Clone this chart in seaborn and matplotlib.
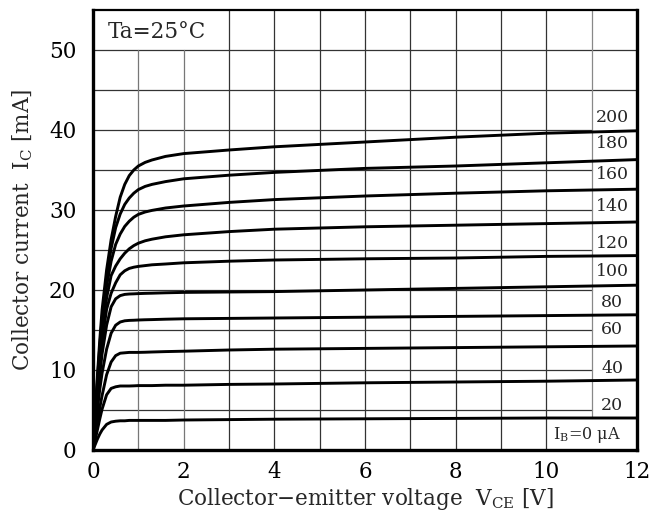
import numpy as np
import pandas as pd
import matplotlib
matplotlib.use("Agg")
import matplotlib.pyplot as plt
import seaborn as sns

# ---- data ----
vce = [0, 0.05, 0.1, 0.15, 0.2, 0.3, 0.4, 0.5, 0.6, 0.7, 0.8, 0.9, 1.0, 1.15, 1.3, 1.6, 2, 3, 4, 6, 8, 10, 12]
ic_200 = [0, 4.8, 9.5, 13.8, 17.5, 22.5, 26.3, 29.2, 31.6, 33.2, 34.3, 35.0, 35.5, 35.95, 36.25, 36.7, 37.05, 37.5, 37.9, 38.5, 39.1, 39.6, 39.9]
ic_180 = [0, 4.5, 9.0, 13.0, 16.5, 21.6, 25.2, 27.8, 29.5, 30.7, 31.5, 32.1, 32.55, 32.95, 33.2, 33.55, 33.9, 34.35, 34.7, 35.2, 35.5, 35.9, 36.3]
ic_160 = [0, 4.3, 8.5, 12.3, 15.6, 20.5, 23.6, 25.7, 27.0, 27.95, 28.6, 29.1, 29.45, 29.75, 29.95, 30.25, 30.5, 30.95, 31.3, 31.75, 32.1, 32.4, 32.6]
ic_140 = [0, 4.0, 8.0, 11.6, 14.6, 19.0, 21.8, 23.0, 23.9, 24.6, 25.15, 25.55, 25.85, 26.15, 26.35, 26.65, 26.9, 27.3, 27.6, 27.9, 28.1, 28.3, 28.5]
ic_120 = [0, 3.8, 7.5, 10.8, 13.6, 17.6, 19.6, 20.9, 21.9, 22.4, 22.7, 22.85, 22.95, 23.05, 23.15, 23.25, 23.4, 23.6, 23.75, 23.9, 24.0, 24.2, 24.3]
ic_100 = [0, 3.3, 6.5, 9.4, 12.0, 15.6, 17.9, 18.9, 19.3, 19.45, 19.5, 19.52, 19.55, 19.58, 19.6, 19.65, 19.7, 19.75, 19.8, 20.0, 20.2, 20.4, 20.6]
ic_80 = [0, 2.6, 5.2, 7.6, 9.6, 12.6, 14.6, 15.6, 16.0, 16.15, 16.2, 16.22, 16.25, 16.28, 16.3, 16.35, 16.4, 16.45, 16.5, 16.6, 16.7, 16.8, 16.9]
ic_60 = [0, 1.8, 3.6, 5.3, 6.8, 9.4, 11.0, 11.8, 12.1, 12.15, 12.2, 12.2, 12.2, 12.22, 12.25, 12.3, 12.35, 12.5, 12.6, 12.7, 12.8, 12.9, 13.0]
ic_40 = [0, 1.3, 2.6, 3.9, 5.1, 6.9, 7.7, 7.9, 8.0, 8.0, 8.0, 8.02, 8.05, 8.05, 8.05, 8.1, 8.1, 8.2, 8.25, 8.4, 8.5, 8.6, 8.75]
ic_20 = [0, 0.7, 1.4, 2.0, 2.5, 3.2, 3.5, 3.6, 3.65, 3.65, 3.7, 3.7, 3.7, 3.7, 3.7, 3.7, 3.75, 3.8, 3.85, 3.9, 3.95, 4.0, 4.0]

ib_labels = ["200", "180", "160", "140", "120", "100", "80", "60", "40", "20"]
label_y = [41.5, 38.3, 34.4, 30.4, 25.8, 22.3, 18.4, 15.0, 10.2, 5.6]
curves = [ic_200, ic_180, ic_160, ic_140, ic_120, ic_100, ic_80, ic_60, ic_40, ic_20]

x_ticks = [0, 2, 4, 6, 8, 10, 12]
y_ticks = [0, 10, 20, 30, 40, 50]

rows = []
for lab, ic in zip(ib_labels, curves):
    for v, i in zip(vce, ic):
        rows.append({"VCE": v, "IC": i, "IB": lab})
df = pd.DataFrame(rows)

# ---- figure ----
sns.set_theme(style="white")
plt.rcParams["font.family"] = ["DejaVu Serif"]
plt.rcParams["mathtext.fontset"] = "dejavuserif"

fig = plt.figure(figsize=(6.54, 5.16), dpi=100)
ax = fig.add_axes([93 / 654, 1 - 450 / 516, (637 - 93) / 654, (450 - 10) / 516])
ax.set_xlim(0, 12)
ax.set_ylim(0, 55)

# grid (with the gaps seen in the reference)
gc = "#333333"
for yv in range(5, 55, 5):
    xmax = 12 if yv >= 45 else 11
    ax.plot([0, xmax], [yv, yv], color=gc, lw=0.9, zorder=1)
for xv in range(1, 12):
    if xv in (1, 2):
        ax.plot([xv, xv], [0, 50], color="#777777", lw=0.9, zorder=1)
    elif xv == 11:
        ax.plot([xv, xv], [4.0, 55], color="#888888", lw=0.9, zorder=1)
    else:
        ax.plot([xv, xv], [0, 55], color=gc, lw=0.9, zorder=1)

sns.lineplot(data=df, x="VCE", y="IC", hue="IB", palette=["black"] * len(ib_labels),
             hue_order=ib_labels, estimator=None, sort=False, legend=False,
             linewidth=2.1, ax=ax, zorder=3)

for lab, yl in zip(ib_labels, label_y):
    ax.text(11.45, yl, lab, ha="center", va="center", fontsize=12.5, zorder=4)
ax.text(10.9, 1.9, "I$_\\mathregular{B}$=0 μA", ha="center", va="center", fontsize=11.5, zorder=4)
ax.text(0.33, 52.2, "Ta=25°C", ha="left", va="center", fontsize=15.5, zorder=4)

ax.set_xticks(x_ticks)
ax.set_yticks(y_ticks)
ax.tick_params(axis="both", length=0, labelsize=15.5, colors="black")
ax.tick_params(axis="x", pad=8)
ax.tick_params(axis="y", pad=12)
ax.set_xlabel("Collector−emitter voltage  V$_\\mathregular{CE}$ [V]", fontsize=15.5, labelpad=2)
ax.set_ylabel("Collector current  I$_\\mathregular{C}$ [mA]", fontsize=15.5, labelpad=10)

for side, lw in [("left", 2.4), ("bottom", 2.4), ("right", 2.4), ("top", 1.6)]:
    ax.spines[side].set_visible(True)
    ax.spines[side].set_color("black")
    ax.spines[side].set_linewidth(lw)
ax.grid(False)

fig.savefig("out.png", dpi=100)
